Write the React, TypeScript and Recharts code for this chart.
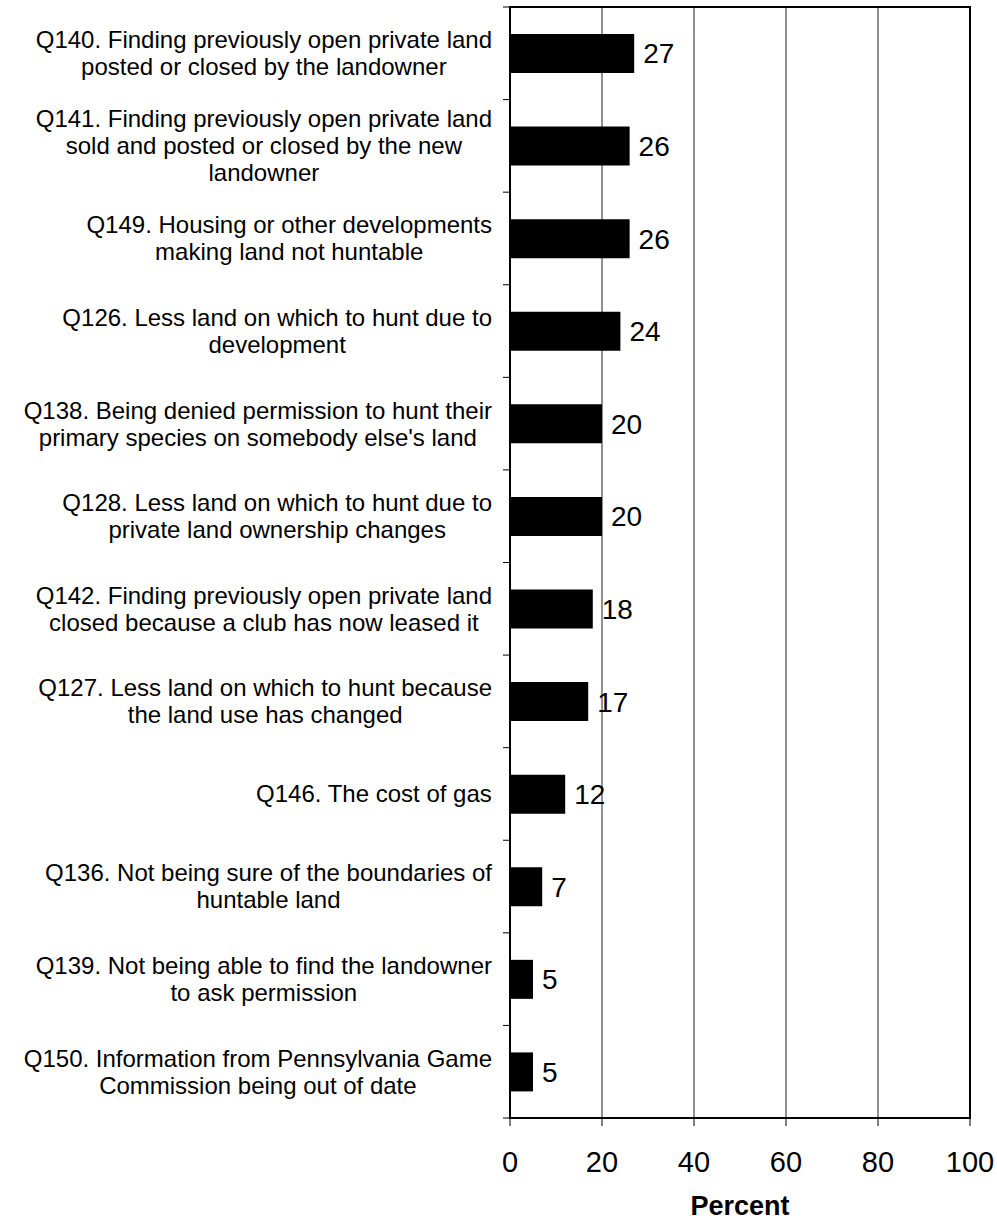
import { BarChart, Bar, XAxis, YAxis, CartesianGrid, ReferenceArea, LabelList } from 'recharts'

const categories = [
  'Q140. Finding previously open private land\nposted or closed by the landowner',
  'Q141. Finding previously open private land\nsold and posted or closed by the new\nlandowner',
  'Q149. Housing or other developments\nmaking land not huntable',
  'Q126. Less land on which to hunt due to\ndevelopment',
  "Q138. Being denied permission to hunt their\nprimary species on somebody else's land",
  'Q128. Less land on which to hunt due to\nprivate land ownership changes',
  'Q142. Finding previously open private land\nclosed because a club has now leased it',
  'Q127. Less land on which to hunt because\nthe land use has changed',
  'Q146. The cost of gas',
  'Q136. Not being sure of the boundaries of\nhuntable land',
  'Q139. Not being able to find the landowner\nto ask permission',
  'Q150. Information from Pennsylvania Game\nCommission being out of date',
]
const percents = [27, 26, 26, 24, 20, 20, 18, 17, 12, 7, 5, 5]
const xTicks = [0, 20, 40, 60, 80, 100]

const data = categories.map((label, i) => ({ label, percent: percents[i] }))

const FONT = '"Liberation Sans", Arial, sans-serif'
const W = 997
const H = 1223
const MARGIN = { top: 7, right: 27, bottom: 0, left: 0 }
const Y_AXIS_W = 510
const X_AXIS_H = 105
const PLOT_H = H - MARGIN.top - MARGIN.bottom - X_AXIS_H
const CAT_FS = 24
const CAT_LH = 27
const CAT_MARGIN = 18
const Y_TICK_LEN = 7

let ctx: CanvasRenderingContext2D | null = null
function measure(s: string) {
  if (!ctx) {
    ctx = document.createElement('canvas').getContext('2d')
    if (ctx) ctx.font = `${CAT_FS}px "Liberation Sans", Arial, sans-serif`
  }
  return ctx ? ctx.measureText(s).width : s.length * CAT_FS * 0.5
}

function CategoryTick(props: any) {
  const { x, y, payload, index } = props
  const lines: string[] = String(payload.value).split('\n')
  const blockW = Math.max(...lines.map(measure))
  const cx = x - blockW / 2
  const axisX = x + CAT_MARGIN
  const half = PLOT_H / categories.length / 2
  return (
    <g>
      {lines.map((ln, i) => (
        <text
          key={i}
          x={cx}
          y={y + (i - (lines.length - 1) / 2) * CAT_LH + CAT_FS * 0.35}
          textAnchor="middle"
          fontFamily={FONT}
          fontSize={CAT_FS}
          fill="#000"
        >
          {ln}
        </text>
      ))}
      <line x1={axisX - Y_TICK_LEN} x2={axisX} y1={y - half} y2={y - half} stroke="#000" />
      {index === categories.length - 1 && (
        <line x1={axisX - Y_TICK_LEN} x2={axisX} y1={y + half} y2={y + half} stroke="#000" />
      )}
    </g>
  )
}

export default function App() {
  return (
    <div style={{ position: 'absolute', left: 0, top: 0, width: W, height: H, background: '#fff' }}>
      <BarChart width={W} height={H} data={data} layout="vertical" margin={MARGIN}>
        <CartesianGrid horizontal={false} stroke="#222" />
        <XAxis
          type="number"
          domain={[0, 100]}
          ticks={xTicks}
          height={X_AXIS_H}
          tickSize={8}
          tickMargin={25}
          axisLine={{ stroke: '#000', strokeWidth: 2 }}
          tickLine={{ stroke: '#000' }}
          tick={{ fontSize: 29, fill: '#000', fontFamily: FONT }}
          label={{
            content: (p: any) => {
              const vb = p.viewBox
              return (
                <text
                  x={vb.x + vb.width / 2}
                  y={vb.y + 97}
                  textAnchor="middle"
                  fontFamily={FONT}
                  fontSize={27}
                  fontWeight="bold"
                  fill="#000"
                >
                  Percent
                </text>
              )
            },
          }}
        />
        <YAxis
          type="category"
          dataKey="label"
          width={Y_AXIS_W}
          interval={0}
          tickSize={0}
          tickMargin={CAT_MARGIN}
          tickLine={false}
          axisLine={{ stroke: '#000', strokeWidth: 2 }}
          tick={(p: any) => <CategoryTick {...p} />}
        />
        <ReferenceArea x1={0} x2={100} fill="none" stroke="#000" strokeWidth={2} fillOpacity={0} />
        <Bar dataKey="percent" fill="#000" barSize={39} isAnimationActive={false}>
          <LabelList
            dataKey="percent"
            position="right"
            offset={9}
            fill="#000"
            fontSize={28}
            fontFamily={FONT}
          />
        </Bar>
      </BarChart>
    </div>
  )
}
